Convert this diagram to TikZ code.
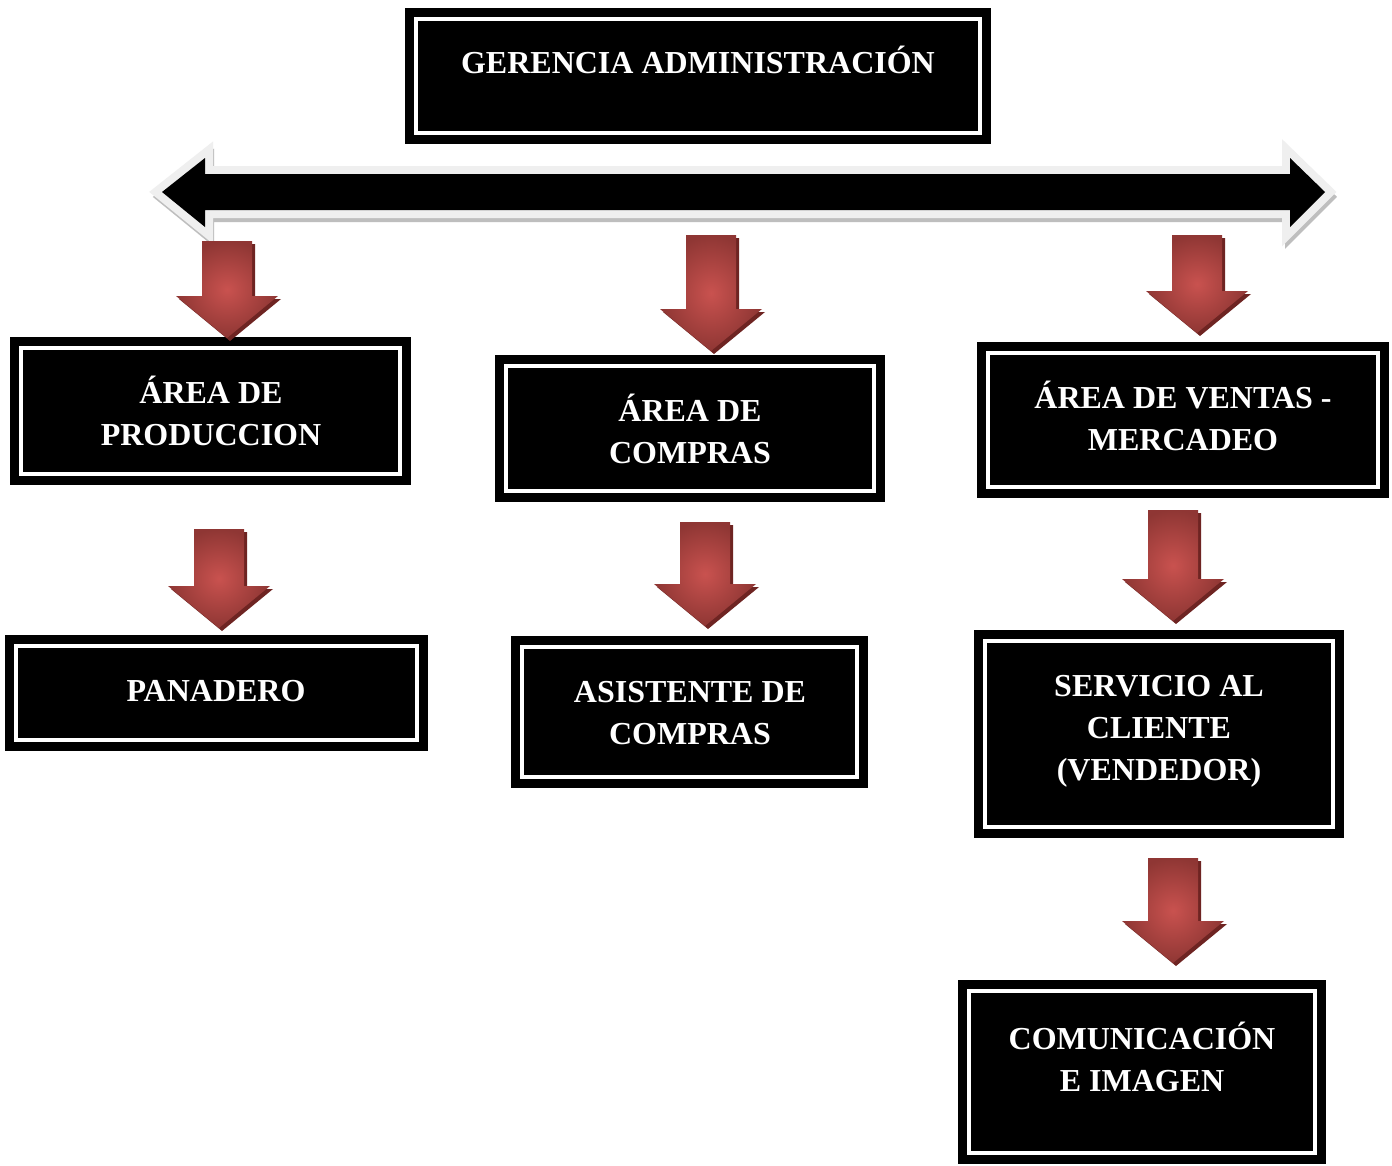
\documentclass[tikz,border=0pt]{standalone}
\usepackage{fontspec}
\setmainfont{Liberation Serif}
\usetikzlibrary{calc}
\definecolor{arrlight}{HTML}{C9524F}
\definecolor{arrmid}{HTML}{A8403D}
\definecolor{arrdark}{HTML}{6E2422}
\definecolor{barout}{HTML}{EFEFEF}
\definecolor{barshadow}{HTML}{BEBEBE}
\tikzset{
  orgbox/.style={rectangle, fill=black, draw=none, inner sep=0pt,
    path picture={\draw[white, line width=3.5pt]
      ([shift={(11pt,-11pt)}]path picture bounding box.north west) rectangle
      ([shift={(-11pt,11pt)}]path picture bounding box.south east);}},
  orgtext/.style={text=white, align=center, inner sep=0pt,
    font=\fontsize{32}{42}\selectfont\bfseries},
  arrshade/.style={shading=radial, inner color=arrlight, outer color=arrmid!85!black},
}
\newcommand\redarr[2]{%
  \fill[arrdark] let \p1=(#1), \p2=(#2) in
    (\x1-22pt,\y1-3pt) -- (\x1+28pt,\y1-3pt) -- (\x1+28pt,\y2+39pt) --
    (\x1+54pt,\y2+39pt) -- (\x1+3pt,\y2-3pt) -- (\x1-48pt,\y2+39pt) --
    (\x1-22pt,\y2+39pt) -- cycle;
  \shade[arrshade] let \p1=(#1), \p2=(#2) in
    (\x1-25pt,\y1) -- (\x1+25pt,\y1) -- (\x1+25pt,\y2+42pt) --
    (\x1+51pt,\y2+42pt) -- (\x1,\y2) -- (\x1-51pt,\y2+42pt) --
    (\x1-25pt,\y2+42pt) -- cycle;
}
\begin{document}
\begin{tikzpicture}[x=1pt,y=-1pt]
\useasboundingbox[fill=white] (0,0) rectangle (1392,1165);

% boxes
\node[orgbox, minimum width=586, minimum height=136] (G) at (698,76) {};
\node[orgtext] (Gt) at (698,60) {GERENCIA ADMINISTRACIÓN};

\node[orgbox, minimum width=401, minimum height=148] (P) at (210.5,411) {};
\node[orgtext] (Pt) at (211,411) {ÁREA DE\\PRODUCCION};

\node[orgbox, minimum width=390, minimum height=147] (C) at (690,428.5) {};
\node[orgtext] (Ct) at (690,429) {ÁREA DE\\COMPRAS};

\node[orgbox, minimum width=412, minimum height=156] (V) at (1183,420) {};
\node[orgtext] (Vt) at (1183,416) {ÁREA DE VENTAS -\\MERCADEO};

\node[orgbox, minimum width=423, minimum height=116] (Pa) at (216.5,693) {};
\node[orgtext] (Pat) at (216,691) {PANADERO};

\node[orgbox, minimum width=357, minimum height=152] (A) at (689.5,712) {};
\node[orgtext] (At) at (690,713) {ASISTENTE DE\\COMPRAS};

\node[orgbox, minimum width=370, minimum height=208] (S) at (1159,734) {};
\node[orgtext] (St) at (1159,731.5) {SERVICIO AL\\CLIENTE\\(VENDEDOR)};

\node[orgbox, minimum width=368, minimum height=184] (K) at (1142,1072) {};
\node[orgtext] (Kt) at (1142,1057) {COMUNICACIÓN\\E IMAGEN};

% double arrow
\coordinate (barL) at (162,192);
\coordinate (barR) at (1325,192);
\def\barpath{(barL) -- (205,158) -- (205,174) -- (1290,174) -- (1290,158) -- (barR) -- (1290,227) -- (1290,210) -- (205,210) -- (205,227) -- cycle}
\begin{scope}[shift={(2,5)}]
\draw[barshadow, line width=14pt, line join=miter, fill=barshadow] (162,192) -- (205,158) -- (205,174) -- (1290,174) -- (1290,158) -- (1325,192) -- (1290,227) -- (1290,210) -- (205,210) -- (205,227) -- cycle;
\end{scope}
\draw[barout, line width=16pt, line join=miter, fill=black] \barpath;
\fill[black] \barpath;

% red arrows
\coordinate (a1s) at (227,241); \coordinate (a1e) at (227,338);
\coordinate (a2s) at (711,235); \coordinate (a2e) at (711,351);
\coordinate (a3s) at (1197,235); \coordinate (a3e) at (1197,333);
\coordinate (a4s) at (219,529); \coordinate (a4e) at (219,628);
\coordinate (a5s) at (705,522); \coordinate (a5e) at (705,626);
\coordinate (a6s) at (1173,510); \coordinate (a6e) at (1173,621);
\coordinate (a7s) at (1173,858); \coordinate (a7e) at (1173,963);
\redarr{a1s}{a1e}
\redarr{a2s}{a2e}
\redarr{a3s}{a3e}
\redarr{a4s}{a4e}
\redarr{a5s}{a5e}
\redarr{a6s}{a6e}
\redarr{a7s}{a7e}
\end{tikzpicture}
\end{document}
